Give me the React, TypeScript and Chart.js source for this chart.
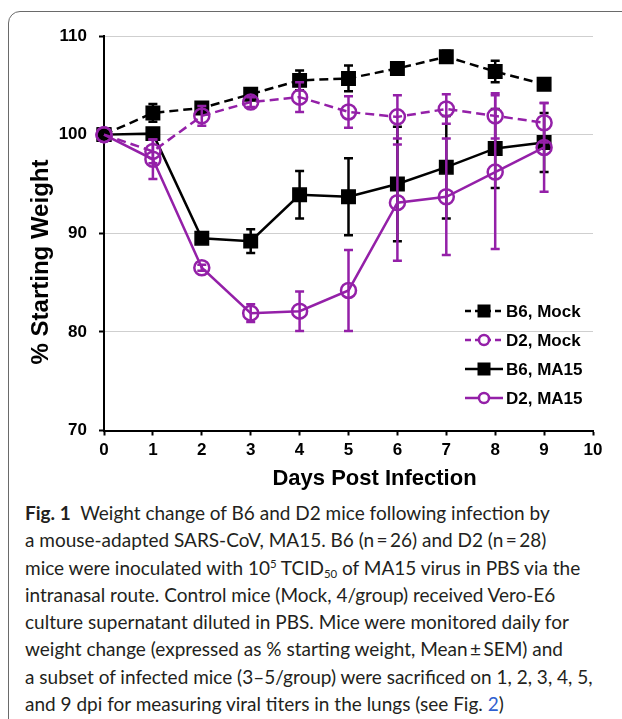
import React, { useEffect, useRef } from 'react';
import { Chart, registerables } from 'chart.js';

Chart.register(...registerables);

const days = [0, 1, 2, 3, 4, 5, 6, 7, 8, 9];
const xTicks = [0, 1, 2, 3, 4, 5, 6, 7, 8, 9, 10];
const yTicks = [70, 80, 90, 100, 110];

const b6Mock = [100, 102.2, 102.7, 104.1, 105.5, 105.7, 106.7, 107.9, 106.4, 105.1];
const b6MockErr = [0, 0.9, 0.4, 0.6, 1.0, 1.3, 0.6, 0.6, 1.1, 0.3];
const d2Mock = [100, 98.3, 101.9, 103.3, 103.8, 102.3, 101.8, 102.6, 101.9, 101.2];
const d2MockErr = [0, 1.2, 1.0, 0.5, 1.5, 1.6, 2.2, 1.5, 2.3, 2.0];
const b6Ma15 = [100, 100.1, 89.5, 89.2, 93.9, 93.7, 95.0, 96.7, 98.6, 99.2];
const b6Ma15Err = [0, 0.3, 0.5, 1.2, 2.4, 3.9, 5.8, 5.2, 4.0, 3.0];
const d2Ma15 = [100, 97.5, 86.5, 81.9, 82.1, 84.2, 93.1, 93.7, 96.2, 98.7];
const d2Ma15Err = [0, 2.0, 0.3, 0.9, 2.0, 4.1, 5.9, 5.9, 7.8, 4.5];

const seriesNames = ['B6, Mock', 'D2, Mock', 'B6, MA15', 'D2, MA15'];
const xTitle = 'Days Post Infection';
const yTitle = '% Starting Weight';

const BLACK = '#000000';
const PURPLE = '#9420a8';
const FONT = '"Liberation Sans", Arial, sans-serif';

type Series = {
  label: string;
  values: number[];
  errors: number[];
  color: string;
  dashed: boolean;
  square: boolean;
  order: number;
};

const series: Series[] = [
  { label: seriesNames[0], values: b6Mock, errors: b6MockErr, color: BLACK, dashed: true, square: true, order: 4 },
  { label: seriesNames[1], values: d2Mock, errors: d2MockErr, color: PURPLE, dashed: true, square: false, order: 2 },
  { label: seriesNames[2], values: b6Ma15, errors: b6Ma15Err, color: BLACK, dashed: false, square: true, order: 3 },
  { label: seriesNames[3], values: d2Ma15, errors: d2Ma15Err, color: PURPLE, dashed: false, square: false, order: 1 },
];

const errorBarPlugin = {
  id: 'errorBars',
  afterDatasetDraw(chart: any, args: any) {
    const ds = chart.data.datasets[args.index];
    const errs: number[] = ds.errors;
    if (!errs) return;
    const ctx = chart.ctx;
    const ys = chart.scales.y;
    const xs = chart.scales.x;
    ctx.save();
    ctx.strokeStyle = ds.borderColor;
    ctx.lineWidth = 2.5;
    ctx.setLineDash([]);
    ds.data.forEach((p: any, i: number) => {
      const e = errs[i];
      if (!e) return;
      const px = xs.getPixelForValue(p.x);
      const top = ys.getPixelForValue(p.y + e);
      const bot = ys.getPixelForValue(p.y - e);
      ctx.beginPath();
      ctx.moveTo(px, top);
      ctx.lineTo(px, bot);
      ctx.moveTo(px - 4.5, top);
      ctx.lineTo(px + 4.5, top);
      ctx.moveTo(px - 4.5, bot);
      ctx.lineTo(px + 4.5, bot);
      ctx.stroke();
    });
    ctx.restore();
  },
};

const decorPlugin = {
  id: 'decor',
  afterDraw(chart: any) {
    const ctx = chart.ctx;
    const area = chart.chartArea;
    ctx.save();
    // axis titles
    ctx.fillStyle = '#000';
    ctx.textAlign = 'center';
    ctx.textBaseline = 'middle';
    ctx.font = `bold 22px ${FONT}`;
    ctx.fillText(xTitle, 374.5, 479);
    ctx.save();
    ctx.translate(41, 262);
    ctx.rotate(-Math.PI / 2);
    ctx.font = `bold 24px ${FONT}`;
    ctx.fillText(yTitle, 0, 0);
    ctx.restore();

    // legend
    const rows = [311, 340, 369, 398];
    const lx0 = area.right - 128;
    const lx1 = area.right - 90;
    const mx = area.right - 109;
    ctx.font = `bold 17px ${FONT}`;
    ctx.textAlign = 'left';
    series.forEach((s, i) => {
      const y = rows[i];
      ctx.strokeStyle = s.color;
      ctx.lineWidth = 2.5;
      ctx.setLineDash(s.dashed ? [6, 4] : []);
      ctx.beginPath();
      ctx.moveTo(lx0, y);
      ctx.lineTo(lx1, y);
      ctx.stroke();
      ctx.setLineDash([]);
      if (s.square) {
        ctx.fillStyle = s.color;
        ctx.fillRect(mx - 6.5, y - 6.5, 13, 13);
      } else {
        ctx.fillStyle = '#fff';
        ctx.beginPath();
        ctx.arc(mx, y, 5, 0, Math.PI * 2);
        ctx.fill();
        ctx.lineWidth = 2.5;
        ctx.stroke();
      }
      ctx.fillStyle = '#000';
      ctx.fillText(s.label, lx1 + 3, y + 1);
    });
    ctx.restore();
  },
};

export default function App() {
  const canvasRef = useRef<HTMLCanvasElement | null>(null);

  useEffect(() => {
    const canvas = canvasRef.current;
    if (!canvas) return;
    const H = 495;
    const chart = new Chart(canvas, {
      type: 'line',
      data: {
        datasets: series.map((s) => ({
          label: s.label,
          data: days.map((d, i) => ({ x: d, y: s.values[i] })),
          errors: s.errors,
          borderColor: s.color,
          backgroundColor: s.square ? s.color : 'rgba(0,0,0,0)',
          borderWidth: 2.5,
          borderDash: s.dashed ? [9, 5] : [],
          pointStyle: s.square ? 'rect' : 'circle',
          pointRadius: s.square ? 9.5 : 7.5,
          pointBorderWidth: s.square ? 1.5 : 2.5,
          pointBackgroundColor: s.square ? s.color : 'rgba(0,0,0,0)',
          pointBorderColor: s.color,
          tension: 0,
          order: s.order,
          clip: false,
        })) as any,
      },
      options: {
        responsive: false,
        animation: false,
        events: [],
        layout: { padding: { left: 0, right: 29, top: 36, bottom: 0 } },
        plugins: {
          legend: { display: false },
          title: { display: false },
          tooltip: { enabled: false },
        },
        scales: {
          x: {
            type: 'linear',
            min: 0,
            max: 10,
            afterBuildTicks: (s: any) => {
              s.ticks = xTicks.map((v) => ({ value: v }));
            },
            afterFit: (s: any) => {
              s.height = H - 430.5;
            },
            ticks: {
              color: '#000',
              font: { family: FONT, size: 17, weight: 'bold' },
              padding: 5,
              maxRotation: 0,
              autoSkip: false,
            },
            grid: {
              drawOnChartArea: false,
              drawTicks: true,
              tickLength: 5,
              tickColor: '#000',
              tickWidth: 2,
            },
            border: { color: '#000', width: 2 },
          },
          y: {
            type: 'linear',
            min: 70,
            max: 110,
            afterBuildTicks: (s: any) => {
              s.ticks = yTicks.map((v) => ({ value: v }));
            },
            afterFit: (s: any) => {
              s.width = 104;
            },
            ticks: {
              color: '#000',
              font: { family: FONT, size: 17, weight: 'bold' },
              padding: 12,
            },
            grid: {
              color: '#cfcfcf',
              lineWidth: 1,
              drawTicks: true,
              tickLength: 5,
              tickColor: '#000',
              tickWidth: 2,
            },
            border: { color: '#000', width: 2 },
          },
        },
      } as any,
      plugins: [errorBarPlugin, decorPlugin],
    });
    return () => chart.destroy();
  }, []);

  const capStyle: React.CSSProperties = {
    position: 'absolute',
    left: 25,
    top: 499,
    fontFamily: 'Lato, "Noto Sans", sans-serif',
    fontSize: 19,
    lineHeight: '27.3px',
    color: '#231f20',
    whiteSpace: 'nowrap',
  };
  const sup: React.CSSProperties = { fontSize: '0.6em', verticalAlign: '0.6em', lineHeight: 0 };
  const sub: React.CSSProperties = { fontSize: '0.6em', verticalAlign: '-0.3em', lineHeight: 0 };

  return (
    <div
      style={{
        position: 'absolute',
        left: 0,
        top: 0,
        width: 622,
        height: 719,
        overflow: 'hidden',
        background: '#fff',
      }}
    >
      <div
        style={{
          position: 'absolute',
          left: 8,
          top: 11,
          width: 700,
          height: 800,
          border: '1.5px solid #6a6a6a',
          borderTopLeftRadius: 12,
        }}
      />
      <canvas
        ref={canvasRef}
        width={622}
        height={495}
        style={{ position: 'absolute', left: 0, top: 0, width: 622, height: 495 }}
      />
      <div style={capStyle}>
        <div>
          <b>Fig. 1</b>&nbsp; Weight change of B6 and D2 mice following infection by
        </div>
        <div>a mouse-adapted SARS-CoV, MA15. B6 (n{'\u2009=\u2009'}26) and D2 (n{'\u2009=\u2009'}28)</div>
        <div>
          mice were inoculated with 10<span style={sup}>5</span> TCID<span style={sub}>50</span> of MA15 virus in PBS via the
        </div>
        <div>intranasal route. Control mice (Mock, 4/group) received Vero-E6</div>
        <div>culture supernatant diluted in PBS. Mice were monitored daily for</div>
        <div>weight change (expressed as % starting weight, Mean{'\u2009±\u2009'}SEM) and</div>
        <div>a subset of infected mice (3–5/group) were sacrificed on 1, 2, 3, 4, 5,</div>
        <div>
          and 9 dpi for measuring viral titers in the lungs (see Fig. <span style={{ color: '#2f5fd0' }}>2</span>)
        </div>
      </div>
    </div>
  );
}
